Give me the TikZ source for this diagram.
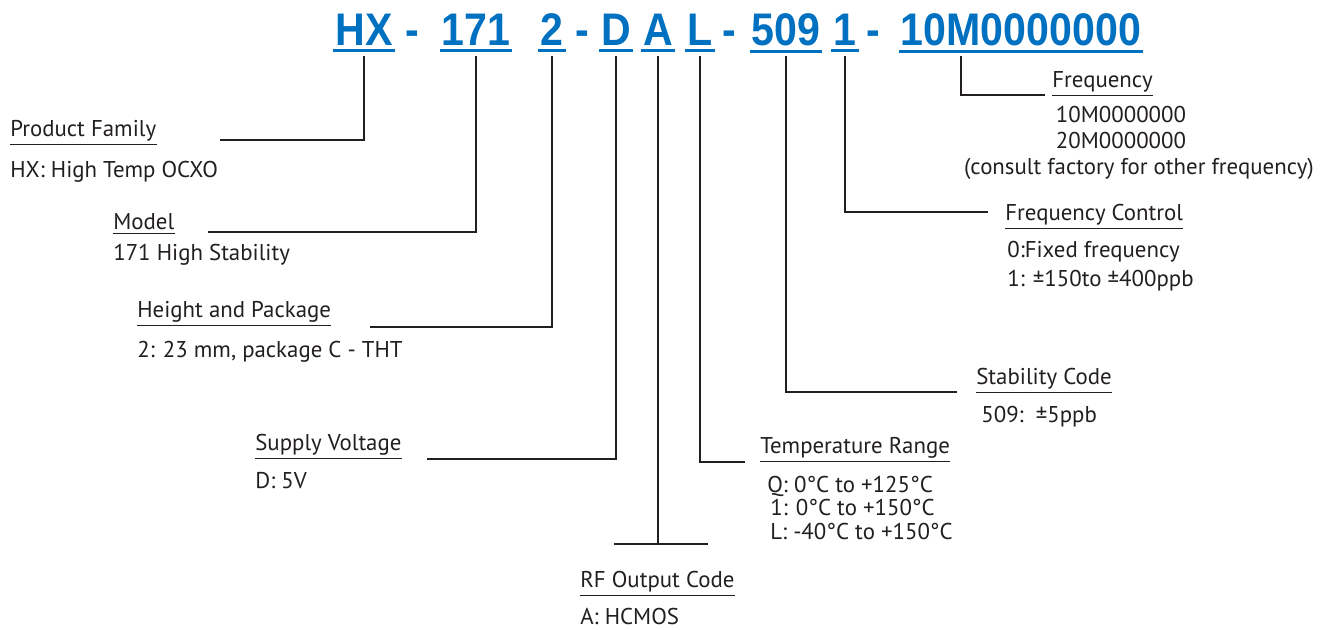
\documentclass[tikz,border=0pt]{standalone}
\usepackage{fontspec}
\setmainfont{PT Sans}
\newfontfamily\codefont[FakeStretch=0.9]{Liberation Sans Bold}
\usepackage{tikz}
\usetikzlibrary{calc}
\definecolor{codeblue}{HTML}{0070C0}
\definecolor{inkgray}{HTML}{231F20}

\begin{document}
\begin{tikzpicture}[
    x=0.02cm, y=-0.02cm,
    codeseg/.style={
        font=\codefont\fontsize{26}{28}\selectfont, text=codeblue,
        inner xsep=1pt, inner ysep=0pt, anchor=base
    },
    ttl/.style={
        font=\fontsize{13}{15}\selectfont, text=inkgray,
        inner sep=0pt, anchor=base west
    },
    desc/.style={ttl},
    lead/.style={draw=inkgray, line width=1.2pt, shorten <=6pt},
    cline/.style={codeblue, line width=1.7pt},
    uline/.style={inkgray, line width=0.6pt}
]
\fill[white] (0,0) rectangle (1331,629);
\useasboundingbox (0,0) rectangle (1331,629);

% ===== PART NUMBER =====
\node[codeseg] (hx)   at (364,45)  {HX};
\node[codeseg] (d1)   at (412,45)  {-};
\node[codeseg] (m171) at (476,45)  {171};
\node[codeseg] (c2)   at (552,45)  {2};
\node[codeseg] (d2)   at (582,45)  {-};
\node[codeseg] (cD)   at (616,45)  {D};
\node[codeseg] (cA)   at (658,45)  {A};
\node[codeseg] (cL)   at (700,45)  {L};
\node[codeseg] (d3)   at (729,45)  {-};
\node[codeseg] (c509) at (786,45)  {509};
\node[codeseg] (c1)   at (845,45)  {1};
\node[codeseg] (d4)   at (873,45)  {-};
\node[codeseg] (cfq)  at (1021,45) {10M0000000};

\foreach \n in {hx, m171, c2, cD, cA, cL, c509, c1, cfq} {
    \draw[cline] ([yshift=-3pt]\n.south west) -- ([yshift=-3pt]\n.south east);
}

% ===== LEFT SIDE =====
\node[ttl]  (pf)  at (10,136)  {Product Family};
\node[desc] (pfd) at (10,177)  {HX: High Temp OCXO};

\node[ttl]  (md)  at (113,229) {Model};
\node[desc] (mdd) at (113,260) {171 High Stability};

\node[ttl]  (hp)  at (137,317) {Height and Package};
\node[desc] (hpd) at (137,357) {2: 23 mm, package C - THT};

\node[ttl]  (sv)  at (255,450) {Supply Voltage};
\node[desc] (svd) at (255,488) {D: 5V};

\node[ttl]  (rf)  at (580,587) {RF Output Code};
\node[desc] (rfd) at (580,624) {A: HCMOS};

% ===== RIGHT SIDE =====
\node[ttl]  (tr)  at (760,453) {Temperature Range};
\node[desc] (tr1) at (767,492) {Q: 0°C to +125°C};
\node[desc] (tr2) at (770,515) {1: 0°C to +150°C};
\node[desc] (tr3) at (770,539) {L: -40°C to +150°C};

\node[ttl]  (sc)  at (976,384) {Stability Code};
\node[desc] (scd) at (981,422) {509:\ \ ±5ppb};

\node[ttl]  (fc)  at (1005,220) {Frequency Control};
\node[desc] (fc1) at (1007,257) {0:Fixed frequency};
\node[desc] (fc2) at (1007,286) {1: ±150to ±400ppb};

\node[ttl]  (fq)  at (1052,87) {Frequency};
\node[desc, anchor=base] (fq1) at (1121,122) {10M0000000};
\node[desc, anchor=base] (fq2) at (1121,148) {20M0000000};
\node[desc, anchor=base] (fq3) at (1139,174) {(consult factory for other frequency)};

\foreach \n in {pf, md, hp, sv, rf, tr, sc, fc, fq} {
    \draw[uline] ([yshift=-2pt]\n.south west) -- ([yshift=-2pt]\n.south east);
}

% Leader lines, free ends
\coordinate (pfend) at (220,140);
\coordinate (mdend) at (208,232);
\coordinate (hpend) at (370,327);
\coordinate (svend) at (427,459);
\coordinate (rfl)   at (614,544);
\coordinate (rfr)   at (708,544);
\coordinate (trend) at (745,462);
\coordinate (scend) at (957,392);
\coordinate (fcend) at (988,212);
\coordinate (fqend) at (1045,95);

\draw[lead] (hx.south) |- (pfend);
\draw[lead] (m171.south) |- (mdend);
\draw[lead] (c2.south) |- (hpend);
\draw[lead] (cD.south) |- (svend);
\draw[lead] (cA.south) -- (cA.south |- rfl);
\draw[lead, shorten <=0pt] (rfl) -- (rfr);
\draw[lead] (cL.south) |- (trend);
\draw[lead] (c509.south) |- (scend);
\draw[lead] (c1.south) |- (fcend);
\draw[lead] ($(cfq.south west)!0.254!(cfq.south east)$) |- (fqend);

\end{tikzpicture}
\end{document}
